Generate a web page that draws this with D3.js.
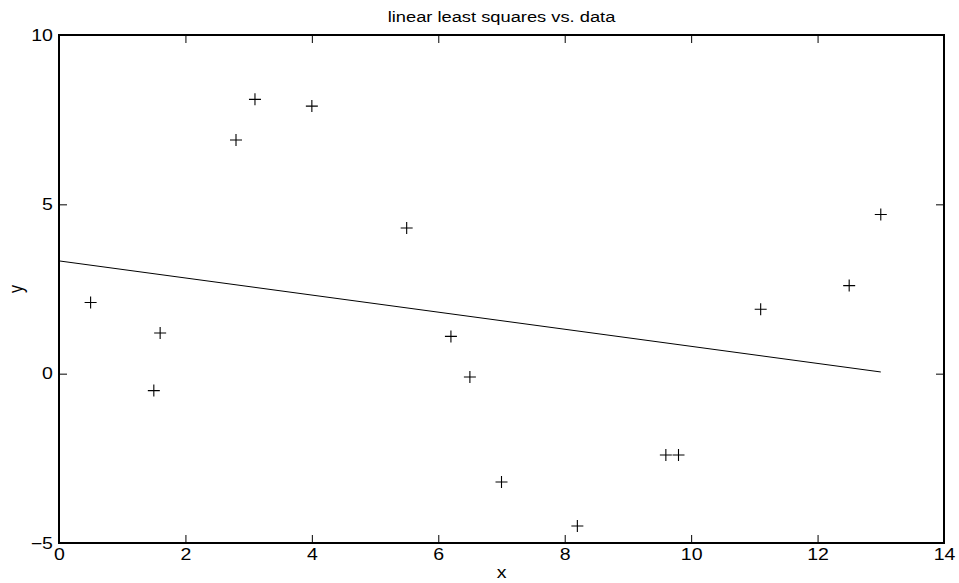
<!DOCTYPE html>
<html><head><meta charset="utf-8">
<script src="https://cdn.jsdelivr.net/npm/d3@7"></script>
<style>body{margin:0;background:#fff}svg{display:block}text{font-family:"Liberation Sans",Arial,sans-serif;fill:#000}</style>
</head><body>
<svg id="c" width="959" height="583"></svg>
<script>
const dataX = [0.5,1.5,1.6,2.8,3.1,4.0,5.5,6.2,6.5,7.0,8.2,9.6,9.8,11.1,12.5,13.0];
const dataY = [2.1,-0.5,1.2,6.9,8.1,7.9,4.3,1.1,-0.1,-3.2,-4.5,-2.4,-2.4,1.9,2.6,4.7];
const fitX = [0, 13];
const fitY = [3.33, 0.05];
const xTicks = [0,2,4,6,8,10,12,14];
const yTicks = [-5,0,5,10];
const title = "linear least squares vs. data";

const svg = d3.select("#c");
const L=59, R=944, T=35, B=543;
const x = d3.scaleLinear().domain([0,14]).range([L,R]);
const y = d3.scaleLinear().domain([-5,10]).range([B,T]);
const tl = 8;
const fs = 16, sx = 1.22;

const gb = svg.append("g").attr("transform",`translate(0,${B})`)
  .call(d3.axisBottom(x).tickValues(xTicks).tickSize(-tl).tickPadding(6).tickFormat(d3.format("d")));
const gt = svg.append("g").attr("transform",`translate(0,${T})`)
  .call(d3.axisTop(x).tickValues(xTicks).tickSize(-tl).tickFormat(""));
const gl = svg.append("g").attr("transform",`translate(${L},0)`)
  .call(d3.axisLeft(y).tickValues(yTicks).tickSize(-tl).tickPadding(5).tickFormat(d=>d<0?"\u2212"+Math.abs(d):d));
const gr = svg.append("g").attr("transform",`translate(${R},0)`)
  .call(d3.axisRight(y).tickValues(yTicks).tickSize(-tl).tickFormat(""));
[gb,gt,gl,gr].forEach(g=>{
  g.select(".domain").remove();
  g.selectAll(".tick line").attr("stroke","#000").attr("stroke-width",1);
  g.selectAll("text").attr("font-size",fs).attr("font-family","Liberation Sans, Arial, sans-serif")
    .attr("transform",`scale(${sx},1)`);
});
svg.append("rect").attr("x",L).attr("y",T).attr("width",R-L).attr("height",B-T)
  .attr("fill","none").attr("stroke","#000").attr("stroke-width",2);

svg.append("path").datum(fitX.map((d,i)=>[d,fitY[i]]))
  .attr("d",d3.line().x(d=>x(d[0])).y(d=>y(d[1])))
  .attr("fill","none").attr("stroke","#000").attr("stroke-width",1);

const m = 6;
const pts = svg.append("g").selectAll("g").data(dataX.map((d,i)=>[d,dataY[i]])).join("g")
  .attr("transform",d=>`translate(${x(d[0])},${y(d[1])})`);
pts.append("path").attr("d",`M${-m},0H${m}M0,${-m}V${m}`).attr("stroke","#000").attr("stroke-width",1.1);

svg.append("text").attr("transform",`translate(${(L+R)/2},22) scale(${sx},1)`).attr("text-anchor","middle").attr("font-size",15).text(title);
svg.append("text").attr("transform",`translate(${(L+R)/2},578) scale(${sx},1)`).attr("text-anchor","middle").attr("font-size",fs).text("x");
svg.append("text").attr("transform",`translate(23,${(T+B)/2}) scale(${sx},1) rotate(-90)`).attr("text-anchor","middle").attr("font-size",fs).text("y");
</script>
</body></html>
